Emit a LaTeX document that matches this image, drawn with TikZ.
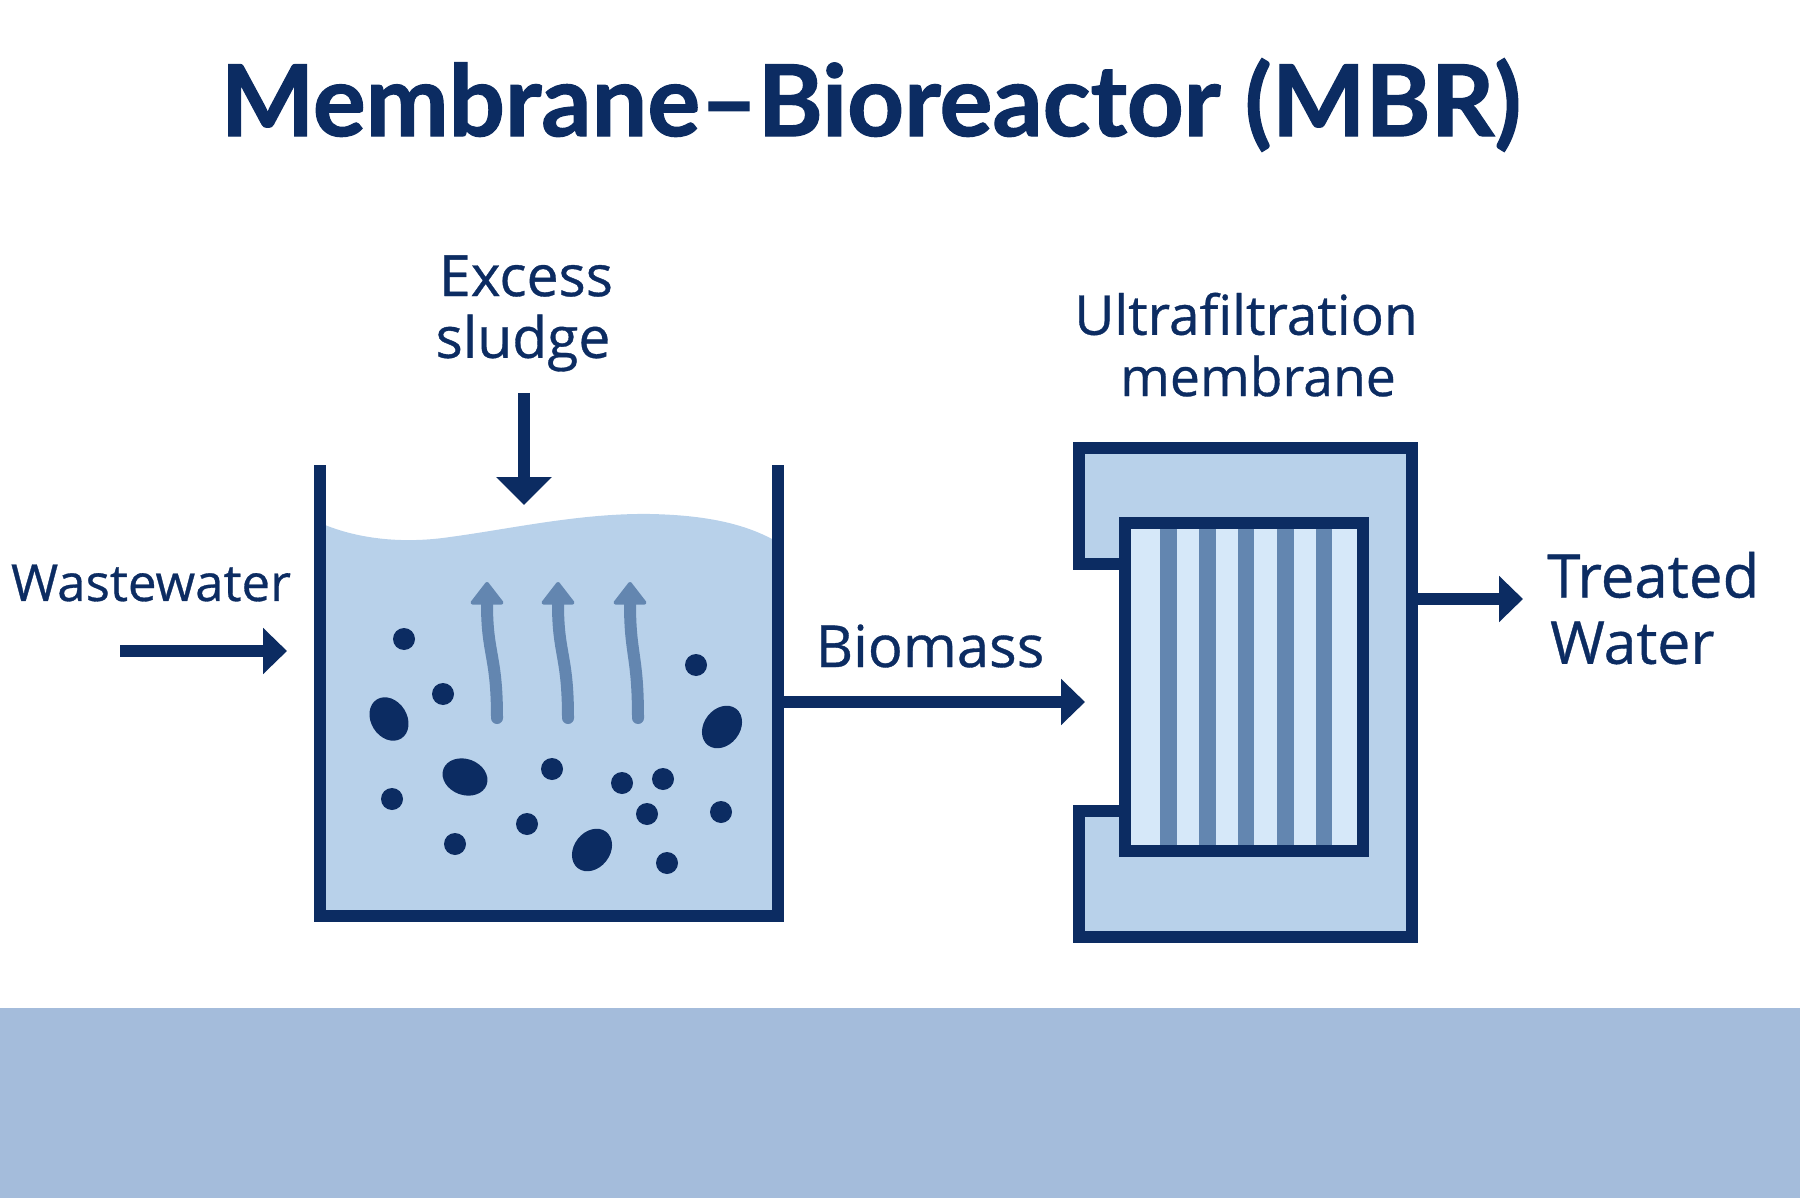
\documentclass[tikz,border=0pt]{standalone}
\usepackage{fontspec}
\setmainfont{Open Sans}
\newfontfamily\lblfont{Open Sans}[FakeBold=0.6]
\newfontfamily\ttlfont{Lato}[BoldFeatures={FakeBold=1.2}]
\usetikzlibrary{arrows.meta}
\definecolor{navy}{HTML}{0C2C62}
\definecolor{water}{HTML}{B8D1EA}
\definecolor{pale}{HTML}{D6E8F9}
\definecolor{steel}{HTML}{6386B0}
\definecolor{band}{HTML}{A4BCDB}

\begin{document}
\begin{tikzpicture}[
x=1pt, y=-1pt,
every node/.style={text=navy, inner sep=0pt}
]

\tikzstyle{wall} = [draw=navy, line width=12pt, line join=miter]
\tikzstyle{flow} = [draw=navy, line width=12.5pt, -{Triangle[length=24pt, width=45pt]}]
\tikzstyle{rise} = [draw=steel, line width=12pt, line cap=round, -{Triangle[length=24pt, width=36pt, line width=4pt, round]}]

\useasboundingbox (0,0) rectangle (1800,1198);
\fill[band] (0,1008) rectangle (1800,1198);

\node[font=\ttlfont\fontsize{99}{110}\selectfont\bfseries] (title) at (871,105) {Membrane–Bioreactor (MBR)};

% tank
\fill[water] (325,525) .. controls (365,541) and (410,543) .. (450,537)
    .. controls (510,529) and (580,513) .. (650,514)
    .. controls (700,515) and (740,522) .. (772,539) -- (772,912) -- (325,912) -- cycle;
\draw[wall] (320,465) -- (320,916) -- (778,916) -- (778,465);
\coordinate (tankIn) at (287,651);
\coordinate (tankOut) at (784,702);
\coordinate (tankTop) at (524,505);

% small flocs
\foreach \px/\py in {404/639, 443/694, 696/665, 552/769, 622/783, 663/779,
    647/814, 721/812, 392/799, 527/824, 455/844, 667/863}
    \fill[navy] (\px,\py) circle (11pt);
% big flocs
\foreach \px/\py/\ang in {389/719/-58, 465/777/-20, 722/727/52, 592/850/52}
    \fill[navy, shift={(\px,\py)}, rotate=\ang] (0,0) ellipse (23pt and 18pt);

% air
\foreach \bx/\tx in {497/487, 568/558, 638/630}
    \draw[rise] (\bx,718) .. controls (\bx,655) and (\tx,655) .. (\tx,582);

% membrane housing
\draw[wall, fill=water] (1079,447.5) -- (1412,447.5) -- (1412,937) -- (1079,937)
    -- (1079,811) -- (1125.5,811) -- (1125.5,564) -- (1079,564) -- cycle;
\node[fill=pale, minimum width=237.5pt, minimum height=328pt] (module) at (1244.25,687) {};
\foreach \sx in {1168.5, 1207.5, 1246, 1285.5, 1324}
    \fill[steel] (\sx-8.25,527) rectangle (\sx+8.25,847);
\draw[wall] (module.south west) rectangle (module.north east);
\coordinate (memIn) at (1085,702);
\coordinate (memOut) at (1418,599);

% labels
\node[font=\lblfont\fontsize{57}{60}\selectfont] (excess) at (526,276) {Excess};
\node[font=\lblfont\fontsize{57}{60}\selectfont] (sludge) at (523,343) {sludge};
\node[font=\lblfont\fontsize{55}{60}\selectfont] (ultra) at (1246,314) {Ultrafiltration};
\node[font=\lblfont\fontsize{53.5}{60}\selectfont] (memb) at (1258,376) {membrane};
\node[font=\lblfont\fontsize{51}{60}\selectfont] (waste) at (151,583) {Wastewater};
\node[font=\lblfont\fontsize{58}{60}\selectfont] (biomass) at (930,646) {Biomass};
\node[font=\lblfont\fontsize{60}{60}\selectfont, anchor=west] (treated) at (1547,575) {Treated};
\node[font=\lblfont\fontsize{59}{60}\selectfont, anchor=west] (tw) at (1550,643) {Water};

\coordinate (sludgeIn) at (524,393);
\coordinate (wasteIn) at (120,651);
\coordinate (treatedOut) at (1523,599);

\draw[flow, -{Triangle[length=28pt, width=54pt]}] (sludgeIn) -- (tankTop);
\draw[flow] (wasteIn) -- (tankIn);
\draw[flow] (tankOut) -- (memIn);
\draw[flow] (memOut) -- (treatedOut);
\end{tikzpicture}
\end{document}
